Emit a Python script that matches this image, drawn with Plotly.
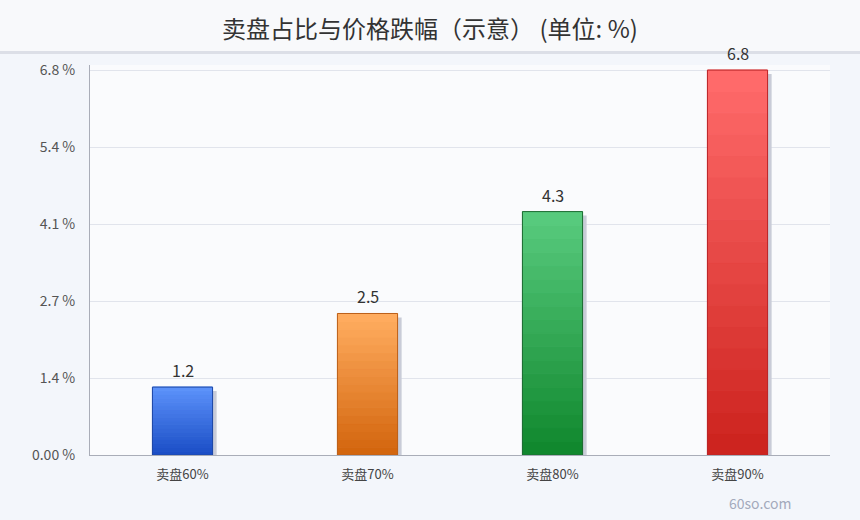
import plotly.graph_objects as go

categories = ['卖盘60%', '卖盘70%', '卖盘80%', '卖盘90%']
drops = [1.2, 2.5, 4.3, 6.8]
tick_vals = [0, 1.36, 2.72, 4.08, 5.44, 6.8]
tick_text = ['0.00 %', '1.4 %', '2.7 %', '4.1 %', '5.4 %', '6.8 %']

# gradient top/bottom colours and outline per bar
top_cols = ['#5b91f9', '#ffac5f', '#57ca7d', '#ff6a6a']
bot_cols = ['#1b4ec6', '#d3660e', '#11882e', '#cd241f']
edge_cols = ['#1e48a6', '#bd611b', '#1f6c34', '#bb2629']

W = 0.325          # bar width in category units
N = 18             # gradient bands


def hex2rgb(h):
    h = h.lstrip('#')
    return [int(h[i:i + 2], 16) for i in (0, 2, 4)]


def mix(c1, c2, t):
    a, b = hex2rgb(c1), hex2rgb(c2)
    return 'rgb(%d,%d,%d)' % tuple(round(a[i] + (b[i] - a[i]) * t) for i in range(3))


fig = go.Figure()

# shadow, nudged right and down
fig.add_trace(go.Bar(
    x=categories, y=drops, base=[-0.07] * 4, width=W, offset=-W / 2 + 0.022,
    marker=dict(color='#c9ccd8', line=dict(width=0)), hoverinfo='skip', showlegend=False
))

# banded gradient, bottom band first; line in fill colour hides seams
for k in range(N):
    t = k / (N - 1)
    cols = [mix(bot_cols[i], top_cols[i], t) for i in range(4)]
    fig.add_trace(go.Bar(
        x=categories,
        y=[v / N for v in drops],
        base=[v * k / N for v in drops],
        width=W,
        marker=dict(color=cols, line=dict(color=cols, width=1)),
        hoverinfo='skip', showlegend=False
    ))

# outline + hover
fig.add_trace(go.Bar(
    x=categories, y=drops, base=[0] * 4, width=W,
    marker=dict(color='rgba(0,0,0,0)', line=dict(color=edge_cols, width=1)),
    hovertemplate='%{x}: %{y}%<extra></extra>', showlegend=False
))

for c, v in zip(categories, drops):
    fig.add_annotation(x=c, y=v, text=str(v), showarrow=False, yanchor='bottom', yshift=3,
                       font=dict(size=16, color='#333333'))

fig.update_layout(
    width=860, height=520,
    margin=dict(l=90, r=30, t=65, b=65),
    barmode='overlay',
    paper_bgcolor='#f3f6fb',
    plot_bgcolor='#fafbfd',
    font=dict(family='Noto Sans CJK SC', color='#444444'),
    title=dict(text='卖盘占比与价格跌幅（示意） (单位: %)', x=0.5, xanchor='center', y=0.943, yanchor='middle',
               font=dict(size=24, color='#333333')),
    xaxis=dict(showline=True, linecolor='#a9adb8', linewidth=1, ticks='', showgrid=False,
               tickfont=dict(size=13, color='#444444'), range=[-0.5, 3.5], ticklabelstandoff=7),
    yaxis=dict(range=[0, 6.89], tickvals=tick_vals, ticktext=tick_text, showline=True,
               linecolor='#a9adb8', linewidth=1, gridcolor='#e1e4ec', gridwidth=1,
               zeroline=False, tickfont=dict(size=14, color='#555555'), ticklabelstandoff=11),
    shapes=[
        dict(type='rect', xref='paper', yref='paper', x0=-0.13, x1=1.05, y0=1.034, y1=1.17,
             fillcolor='#f8f9fb', line=dict(width=0), layer='below'),
        dict(type='line', xref='paper', yref='paper', x0=-0.13, x1=1.05, y0=1.032, y1=1.032,
             line=dict(color='#dcdfe7', width=3)),
    ],
)

fig.add_annotation(text='60so.com', xref='paper', yref='paper', x=0.905, y=-0.123,
                   xanchor='center', yanchor='middle', showarrow=False,
                   font=dict(size=14, color='#a3aabb'))

# drop the default page margin so the figure sits at the window's corner
fig.write_html('out.html', config={'displayModeBar': False},
               post_script="document.body.style.margin='0px';")
